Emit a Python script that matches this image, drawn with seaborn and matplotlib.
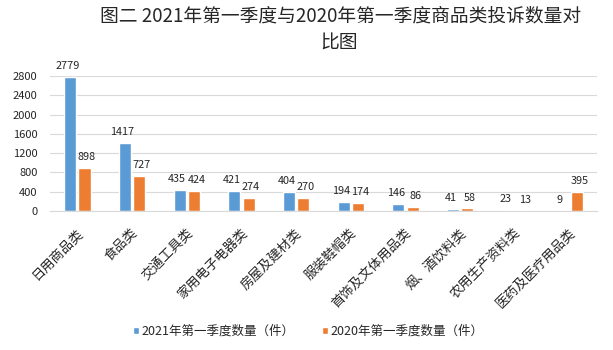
import matplotlib
matplotlib.use('Agg')
import matplotlib.pyplot as plt
import matplotlib.transforms as mtransforms
import pandas as pd
import seaborn as sns

categories = ['日用商品类', '食品类', '交通工具类', '家用电子电器类', '房屋及建材类',
              '服装鞋帽类', '首饰及文体用品类', '烟、酒饮料类', '农用生产资料类', '医药及医疗用品类']
counts_2021 = [2779, 1417, 435, 421, 404, 194, 146, 41, 23, 9]
counts_2020 = [898, 727, 424, 274, 270, 174, 86, 58, 13, 395]
series_names = ['2021年第一季度数量（件）', '2020年第一季度数量（件）']
y_ticks = [0, 400, 800, 1200, 1600, 2000, 2400, 2800]

df = pd.DataFrame({
    '类别': categories * 2,
    '数量': counts_2021 + counts_2020,
    '系列': [series_names[0]] * len(categories) + [series_names[1]] * len(categories),
})

sns.set_style('white')
plt.rcParams['font.family'] = ['Noto Sans CJK SC', 'DejaVu Sans']

fig = plt.figure(figsize=(6.13, 3.5), dpi=100)
ax = fig.add_axes([50 / 613, 1 - 211 / 350, 547 / 613, 135 / 350])

sns.barplot(data=df, x='类别', y='数量', hue='系列', order=categories,
            hue_order=series_names, palette=['#5B9BD5', '#ED7D31'], saturation=1,
            width=0.52, gap=0.15, ax=ax, legend=True)

# value labels, nudged a little apart so neighbours don't collide
for c, dx in zip(ax.containers, [-1.8, 1.8]):
    for ann in ax.bar_label(c, fmt='%d', padding=4, fontsize=7.8):
        ann.xyann = (dx, 4)

ax.set_ylim(0, 2800)
ax.set_yticks(y_ticks)
ax.tick_params(axis='y', labelsize=8, length=0, pad=9)
ax.tick_params(axis='x', length=0, pad=11)
ax.set_xticks(range(len(categories)))
ax.set_xticklabels(categories, rotation=45, ha='right', rotation_mode='anchor', fontsize=9.5)
shift = mtransforms.ScaledTranslation(-1 / 100, 0, fig.dpi_scale_trans)
for lbl in ax.get_xticklabels():
    lbl.set_transform(lbl.get_transform() + shift)
ax.yaxis.grid(True, color='#D9D9D9', linewidth=0.8)
ax.set_axisbelow(True)
ax.set_xlabel('')
ax.set_ylabel('')
for s in ['left', 'top', 'right']:
    ax.spines[s].set_visible(False)
ax.spines['bottom'].set_color('#D9D9D9')
ax.set_xlim(-0.5, len(categories) - 0.5)

handles, labels = ax.get_legend_handles_labels()
ax.get_legend().remove()
fig.legend(handles, labels, loc='center', bbox_to_anchor=(308 / 613, 1 - 331 / 350),
           ncol=2, frameon=False, fontsize=9, handlelength=0.5, handleheight=0.5,
           handletextpad=0.2, columnspacing=2.2)

fig.text(341 / 613, 1 - 16 / 350, '图二 2021年第一季度与2020年第一季度商品类投诉数量对',
         ha='center', va='center', fontsize=13.5)
fig.text(339 / 613, 1 - 43 / 350, '比图', ha='center', va='center', fontsize=13.5)

fig.savefig('out.png', dpi=100)
